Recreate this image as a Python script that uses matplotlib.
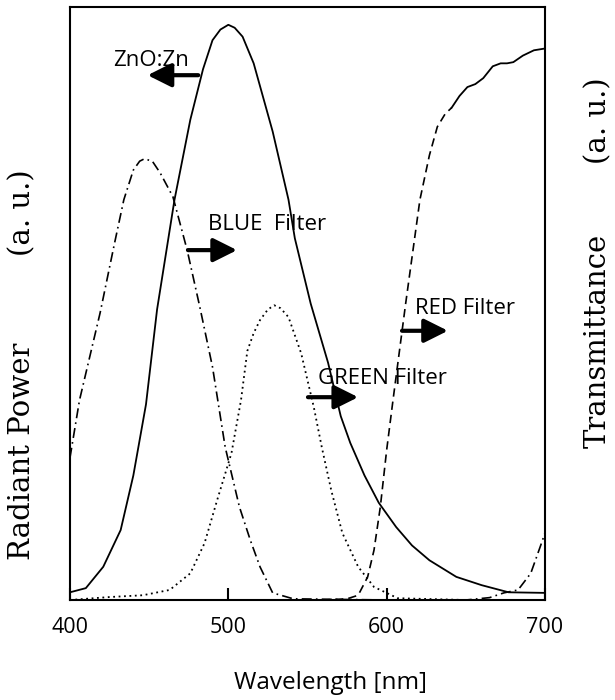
import numpy as np
import matplotlib
matplotlib.use("Agg")
import matplotlib.pyplot as plt

# ZnO:Zn emission (solid)
zno_nm = [400, 410, 421, 432, 440, 448, 455, 466, 476, 484, 490, 495, 500, 504,
          509, 516, 528, 538, 542, 552, 563, 571, 577, 586, 595, 606, 616, 627,
          644, 660, 677, 700]
zno_y = [0.013, 0.02, 0.056, 0.118, 0.21, 0.33, 0.49, 0.675, 0.81, 0.895, 0.944,
         0.962, 0.97, 0.965, 0.95, 0.905, 0.79, 0.675, 0.61, 0.50, 0.40, 0.31,
         0.265, 0.21, 0.164, 0.123, 0.092, 0.067, 0.039, 0.025, 0.013, 0.012]

# blue filter transmittance (dash-dot)
blue_nm = [400, 406, 419, 428, 434, 440, 444, 447, 452, 457, 465, 474, 482, 490,
           498, 507, 514, 520, 528, 541, 600, 650, 665, 674, 683, 691, 697, 700]
blue_y = [0.24, 0.337, 0.484, 0.60, 0.675, 0.725, 0.74, 0.744, 0.74, 0.72, 0.68,
          0.59, 0.494, 0.393, 0.258, 0.157, 0.1, 0.056, 0.012, 0.002, 0.0, 0.0,
          0.004, 0.012, 0.017, 0.045, 0.09, 0.113]

# green filter transmittance (dotted)
green_nm = [400, 425, 446, 463, 476, 485, 493, 502, 508, 512, 516, 520, 525, 529,
            533, 538, 546, 554, 559, 565, 572, 582, 592, 607, 650, 700]
green_y = [0.0, 0.005, 0.008, 0.017, 0.045, 0.096, 0.169, 0.248, 0.337, 0.42,
           0.45, 0.472, 0.49, 0.497, 0.492, 0.477, 0.416, 0.325, 0.258, 0.185,
           0.113, 0.056, 0.022, 0.003, 0.0, 0.0]

# red filter transmittance (dashed part, then solid part)
red_nm = [500, 560, 575, 582, 588, 592, 596, 600, 604, 612, 621, 627, 632, 637, 641]
red_y = [0.0, 0.0, 0.002, 0.008, 0.039, 0.084, 0.157, 0.253, 0.337, 0.5, 0.675,
         0.75, 0.798, 0.82, 0.83]
red2_nm = [641, 646, 651, 656, 661, 667, 672, 676, 680, 686, 693, 700]
red2_y = [0.83, 0.85, 0.865, 0.87, 0.88, 0.9, 0.905, 0.905, 0.907, 0.918, 0.927, 0.93]

xticks = [400, 500, 600, 700]

fig = plt.figure(figsize=(6.15, 7), dpi=100)
ax = fig.add_axes([70/615, 100/700, 475/615, 593/700])

ax.plot(zno_nm, zno_y, color='k', lw=1.3)
ax.plot(blue_nm, blue_y, color='k', lw=1.2, linestyle=(0, (6, 2.5, 1, 2.5)))
ax.plot(green_nm, green_y, color='k', lw=1.3, linestyle=(0, (1, 2)))
ax.plot(red_nm, red_y, color='k', lw=1.2, linestyle=(0, (5, 3)))
ax.plot(red2_nm, red2_y, color='k', lw=1.3)

ax.set_xlim(400, 700)
ax.set_ylim(0, 1)
ax.set_xticks(xticks)
ax.set_xticklabels([str(t) for t in xticks], fontsize=15.5, family='Open Sans')
ax.set_yticks([])
ax.tick_params(axis='x', direction='in', length=9, width=1.5, pad=12)
for s in ax.spines.values():
    s.set_linewidth(1.5)

afont = dict(fontsize=16, family='Open Sans', va='center', ha='left')
ax.text(427, 0.909, 'ZnO:Zn', **afont)
ax.text(487, 0.634, 'BLUE  Filter', **afont)
ax.text(556.6, 0.374, 'GREEN Filter', **afont)
ax.text(618, 0.492, 'RED Filter', **afont)

aprops = dict(arrowstyle='-|>,head_length=0.8,head_width=0.4', lw=3, color='k',
              mutation_scale=18, shrinkA=0, shrinkB=0)
ax.annotate('', xy=(449, 0.885), xytext=(481, 0.885), arrowprops=aprops)
ax.annotate('', xy=(505.5, 0.59), xytext=(474.5, 0.59), arrowprops=aprops)
ax.annotate('', xy=(582, 0.342), xytext=(550.3, 0.342), arrowprops=aprops)
ax.annotate('', xy=(638.7, 0.454), xytext=(609.7, 0.454), arrowprops=aprops)

fig.text(330/615, 1 - 683/700, 'Wavelength [nm]', fontsize=17.5,
         family='Open Sans', ha='center', va='center')

yfont = dict(fontsize=21, family='DejaVu Serif', rotation=90, ha='center', va='center')
fig.text(22/615, 1 - 451/700, 'Radiant Power', **yfont)
fig.text(22/615, 1 - 213/700, '(a. u.)', **yfont)
fig.text(598/615, 1 - 341/700, 'Transmittance', **yfont)
fig.text(598/615, 1 - 121/700, '(a. u.)', **yfont)

fig.savefig('out.png', dpi=100)
